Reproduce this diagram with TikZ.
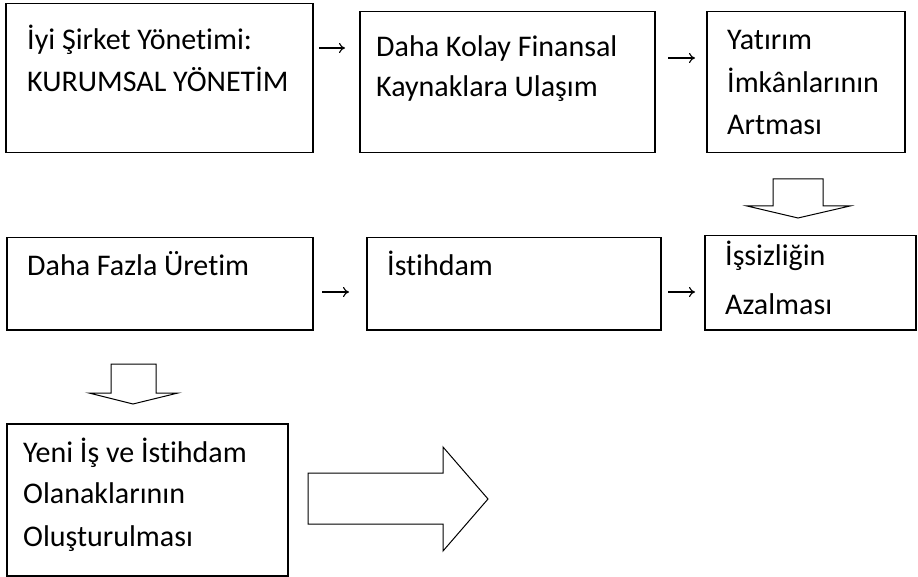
\documentclass[tikz,border=0pt]{standalone}
\usepackage{fontspec}
\setmainfont[Ligatures={NoCommon}]{Carlito}
\usetikzlibrary{arrows.meta}
\begin{document}
\begin{tikzpicture}[x=1pt,y=-1pt,
  box/.style={draw, line width=1.5pt, inner sep=0pt, anchor=north west},
  lbl/.style={anchor=base west, inner sep=0pt, font=\fontsize{30}{36}\selectfont},
  smallarrow/.style={line width=1.1pt, -{To[length=6pt,width=10pt]}},
  blockarrow/.style={draw, line width=1pt, line join=miter, fill=white}]
\useasboundingbox (0,0) rectangle (918,577);
% boxes
\node[box, minimum width=307pt, minimum height=149pt] (b1) at (5,3) {};
\node[box, minimum width=295pt, minimum height=141pt] (b2) at (359,11) {};
\node[box, minimum width=198pt, minimum height=141pt] (b3) at (706,11) {};
\node[box, minimum width=306pt, minimum height=92pt] (b4) at (6,237) {};
\node[box, minimum width=294pt, minimum height=92pt] (b5) at (366,237) {};
\node[box, minimum width=211pt, minimum height=94pt] (b6) at (704,235) {};
\node[box, minimum width=281pt, minimum height=152pt] (b7) at (6,423) {};
% texts
\node[lbl] (t1a) at (27,50) {İyi Şirket Yönetimi:};
\node[lbl] (t1b) at (27,92) {KURUMSAL YÖNETİM};
\node[lbl] (t2a) at (376,57) {Daha Kolay Finansal};
\node[lbl] (t2b) at (376,97) {Kaynaklara Ulaşım};
\node[lbl] (t3a) at (727,50) {Yatırım};
\node[lbl] (t3b) at (727,93) {İmkânlarının};
\node[lbl] (t3c) at (727,135) {Artması};
\node[lbl] (t4a) at (27,276) {Daha Fazla Üretim};
\node[lbl] (t5a) at (387,276) {İstihdam};
\node[lbl] (t6a) at (725,266) {İşsizliğin};
\node[lbl] (t6b) at (725,315) {Azalması};
\node[lbl] (t7a) at (23,462) {Yeni İş ve İstihdam};
\node[lbl] (t7b) at (23,503) {Olanaklarının};
\node[lbl] (t7c) at (23,546) {Oluşturulması};
% small arrows
\coordinate (a12s) at (319,48);  \coordinate (a12e) at (345,48);
\coordinate (a23s) at (668,58);  \coordinate (a23e) at (695,58);
\coordinate (a45s) at (322,292); \coordinate (a45e) at (349,292);
\coordinate (a56s) at (668,292); \coordinate (a56e) at (695,292);
\draw[smallarrow] (a12s) -- (a12e);
\draw[smallarrow] (a23s) -- (a23e);
\draw[smallarrow] (a45s) -- (a45e);
\draw[smallarrow] (a56s) -- (a56e);
% block arrows
\draw[blockarrow] (773,179) -- (823,179) -- (823,206) -- (850,206) -- (798,218) -- (747,206) -- (773,206) -- cycle;
\draw[blockarrow] (111,364) -- (156,364) -- (156,393) -- (178,393) -- (133,404) -- (89,393) -- (111,393) -- cycle;
\draw[blockarrow] (308,473) -- (443,473) -- (443,447) -- (488,499) -- (443,551) -- (443,524) -- (308,524) -- cycle;
\end{tikzpicture}
\end{document}
